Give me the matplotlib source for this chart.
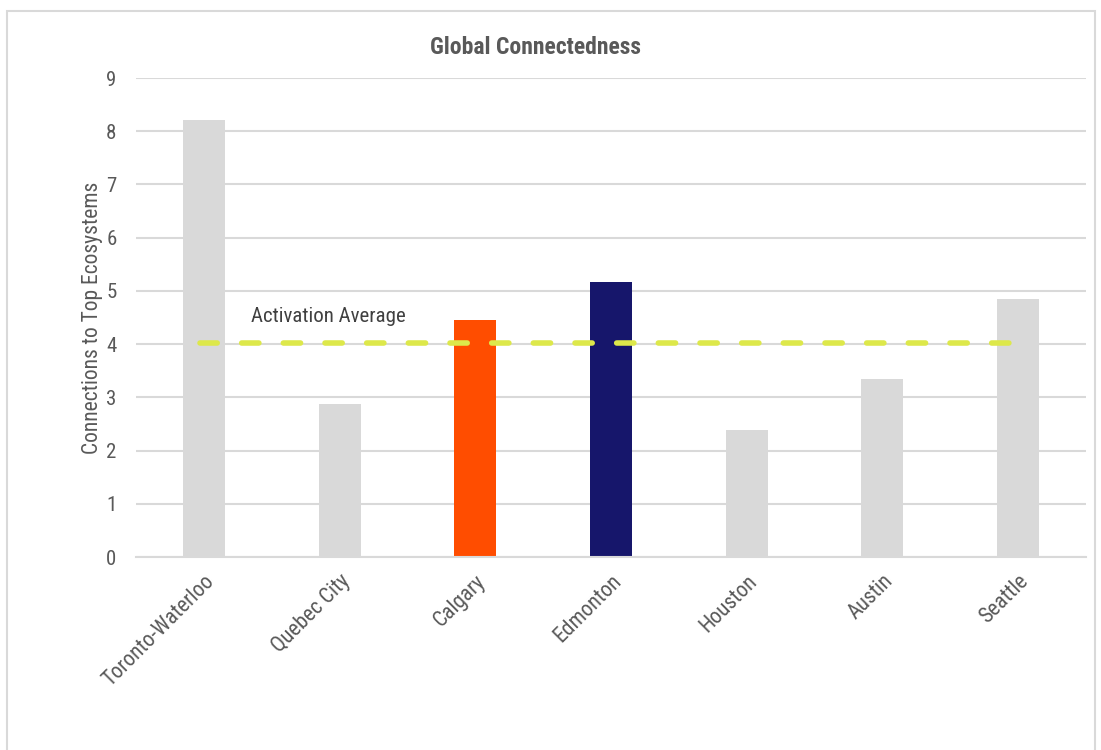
import matplotlib
matplotlib.use("Agg")
import matplotlib.pyplot as plt
from matplotlib.patches import Rectangle
from matplotlib import font_manager

cities = ["Toronto-Waterloo", "Quebec City", "Calgary", "Edmonton", "Houston", "Austin", "Seattle"]
connections = [8.22, 2.87, 4.46, 5.16, 2.38, 3.34, 4.84]
bar_colors = ["#D9D9D9", "#D9D9D9", "#FF4D00", "#16166B", "#D9D9D9", "#D9D9D9", "#D9D9D9"]
activation_average = 4.03
y_ticks = list(range(0, 10))

names = {f.name for f in font_manager.fontManager.ttflist}
stretch = "normal"
if "Roboto Condensed" in names:
    family = "Roboto Condensed"
elif "Liberation Sans Narrow" in names:
    family = "Liberation Sans Narrow"
else:
    family = "DejaVu Sans"
    stretch = "condensed"
plt.rcParams["font.family"] = [family, "DejaVu Sans"]
plt.rcParams["font.stretch"] = stretch

text_color = "#595959"
grid_color = "#D9D9D9"

fig = plt.figure(figsize=(11.01, 7.5), dpi=100)
fig.patches.append(Rectangle((0.006, -0.01), 0.989, 0.996, transform=fig.transFigure,
                             fill=False, edgecolor="#D9D9D9", linewidth=1.5))
ax = fig.add_axes([0.1235, 0.2573, 0.8629, 0.6387])

x = list(range(len(cities)))
ax.bar(x, connections, width=0.31, color=bar_colors, zorder=2)

ax.plot([x[0] - 0.03, x[-1] + 0.1], [activation_average, activation_average],
        color="#DDE84A", linewidth=4.0, dashes=(3.1, 4.4), dash_capstyle="round", zorder=3)
ax.text(0.35, activation_average + 0.48, "Activation Average", fontsize=15,
        color="#404040", ha="left", va="center")

ax.set_xlim(-0.5, len(cities) - 0.5)
ax.set_ylim(0, 9)
ax.set_yticks(y_ticks)
ax.yaxis.grid(True, color=grid_color, linewidth=1.5, zorder=0)
ax.set_axisbelow(True)
for s in ["top", "right", "left"]:
    ax.spines[s].set_visible(False)
ax.spines["bottom"].set_color(grid_color)
ax.spines["bottom"].set_linewidth(1.5)
ax.tick_params(axis="both", length=0, labelsize=15, colors=text_color, pad=14)
ax.set_xticks(x)
ax.set_xticklabels(cities, rotation=45, ha="right", rotation_mode="anchor", fontsize=15.5)
ax.tick_params(axis="x", pad=10)

ax.set_ylabel("Connections to Top Ecosystems", fontsize=15.5, color=text_color, labelpad=2)
fig.text(0.486, 0.936, "Global Connectedness", fontsize=17, fontweight="bold",
         color=text_color, ha="center", va="center")

fig.savefig("out.png", dpi=100)
